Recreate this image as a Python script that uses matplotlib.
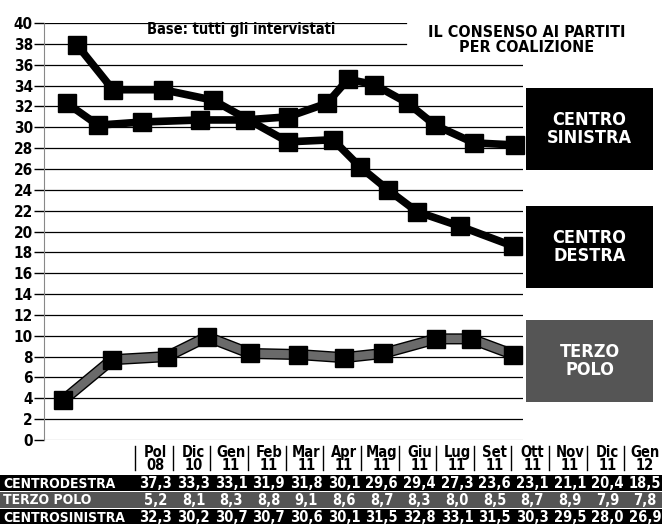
import matplotlib.pyplot as plt
from matplotlib.patches import Rectangle
import numpy as np

plt.rcParams['font.family'] = ['DejaVu Sans']
plt.rcParams['font.stretch'] = 'condensed'
plt.rcParams['font.weight'] = 'bold'

# table below the chart
months = ["Pol\n08", "Dic\n10", "Gen\n11", "Feb\n11", "Mar\n11", "Apr\n11", "Mag\n11",
          "Giu\n11", "Lug\n11", "Set\n11", "Ott\n11", "Nov\n11", "Dic\n11", "Gen\n12"]
row_names = ["CENTRODESTRA", "TERZO POLO", "CENTROSINISTRA"]
centrodestra = [37.3, 33.3, 33.1, 31.9, 31.8, 30.1, 29.6, 29.4, 27.3, 23.6, 23.1, 21.1, 20.4, 18.5]
terzo_polo = [5.2, 8.1, 8.3, 8.8, 9.1, 8.6, 8.7, 8.3, 8.0, 8.5, 8.7, 8.9, 7.9, 7.8]
centrosinistra = [32.3, 30.2, 30.7, 30.7, 30.6, 30.1, 31.5, 32.8, 33.1, 31.5, 30.3, 29.5, 28.0, 26.9]

# lines as drawn in the chart (time position along x, value)
cd_t = [33, 69, 119, 169, 244, 289, 316, 344, 373, 416, 469]
cd_v = [37.9, 33.6, 33.6, 32.6, 28.6, 28.8, 26.2, 24.0, 21.9, 20.5, 18.6]
cs_t = [23, 54, 98, 156, 201, 244, 283, 304, 330, 364, 391, 430, 471]
cs_v = [32.3, 30.2, 30.5, 30.7, 30.7, 31.0, 32.3, 34.6, 34.1, 32.3, 30.2, 28.5, 28.3]
tp_t = [19, 68, 123, 163, 206, 254, 300, 339, 392, 427, 469]
tp_v = [3.8, 7.7, 8.0, 9.9, 8.3, 8.2, 7.9, 8.3, 9.7, 9.7, 8.2]

W, H = 666, 524
fig = plt.figure(figsize=(W / 100, H / 100), dpi=100)
fig.patch.set_facecolor("white")

ax = fig.add_axes([44 / W, 1 - 440 / H, 479 / W, 417 / H])
ax.set_xlim(0, 479)
ax.set_ylim(0, 40)
ax.set_yticks(np.arange(0, 41, 2))
ax.set_xticks([])
for s in ["top", "right", "bottom"]:
    ax.spines[s].set_visible(False)
ax.spines["left"].set_color("#888888")
ax.spines["left"].set_linestyle((0, (1, 1)))
ax.tick_params(axis="y", length=7, width=1, color="black", pad=1, labelsize=11)

for v in range(0, 41, 2):
    xmax = 0.755 if v >= 38 else 1.0
    ax.axhline(v, xmin=0, xmax=xmax, color="#aaaaaa" if v == 0 else "black", lw=0.9, zorder=1)

ax.plot(cd_t, cd_v, color="black", lw=5.5, marker="s", ms=13, zorder=4, clip_on=False)
ax.plot(cs_t, cs_v, color="black", lw=5.5, marker="s", ms=13, zorder=4, clip_on=False)
ax.plot(tp_t, tp_v, color="black", lw=8, zorder=3, clip_on=False)
ax.plot(tp_t, tp_v, color="#6a6a6a", lw=6, zorder=3, clip_on=False)
ax.plot(tp_t, tp_v, color="black", lw=0, marker="s", ms=13, zorder=4, clip_on=False)

ax.text(0.412, 0.985, "Base: tutti gli intervistati", transform=ax.transAxes,
        ha="center", va="center", fontsize=10.5)

# overlay in pixel coordinates for labels and table
ov = fig.add_axes([0, 0, 1, 1])
ov.set_xlim(0, W)
ov.set_ylim(H, 0)
ov.axis("off")

ov.text(527, 40, "IL CONSENSO AI PARTITI\nPER COALIZIONE", ha="center", va="center",
        fontsize=11.5, linespacing=0.95)

boxes = [("CENTRO\nSINISTRA", 88, "black"), ("CENTRO\nDESTRA", 206, "black"),
         ("TERZO\nPOLO", 320, "#555555")]
for txt, top, col in boxes:
    ov.add_patch(Rectangle((526, top), 127, 82, facecolor=col, edgecolor="none"))
    ov.text(589.5, top + 41, txt, ha="center", va="center", color="white",
            fontsize=13, linespacing=0.95)

x0, x1 = 135, 662
cw = (x1 - x0) / len(months)
centers = x0 + cw * (np.arange(len(months)) + 0.5)
for i, m in enumerate(months):
    ov.plot([x0 + i * cw, x0 + i * cw], [446, 470], color="black", lw=1)
    ov.text(centers[i] + 2, 459, m, ha="center", va="center", fontsize=10.5,
            linespacing=0.8)

rows = [centrodestra, terzo_polo, centrosinistra]
row_cols = ["black", "#555555", "black"]
row_top = [475, 492, 509]
for name, vals, col, top in zip(row_names, rows, row_cols, row_top):
    ov.add_patch(Rectangle((0, top), x1, 16, facecolor=col, edgecolor="none"))
    ov.text(3, top + 8.5, name, ha="left", va="center", color="white", fontsize=10)
    for c, v in zip(centers, vals):
        ov.text(c + 2, top + 8.5, f"{v:.1f}".replace(".", ","), ha="center", va="center",
                color="white", fontsize=10.5)

fig.savefig("out.png", dpi=100)
